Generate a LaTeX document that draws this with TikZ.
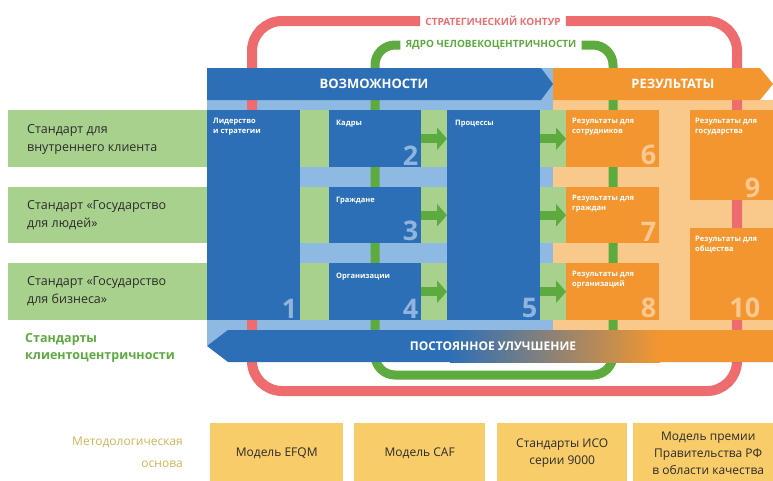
\documentclass[tikz,border=0pt]{standalone}
\usepackage{fontspec}
\setmainfont{Open Sans}
\usetikzlibrary{arrows.meta}
\definecolor{okblue}{HTML}{2C6FB7}
\definecolor{oklightblue}{HTML}{8DB9E2}
\definecolor{oknumblue}{HTML}{8FB4DE}
\definecolor{okgreen}{HTML}{5DAA3F}
\definecolor{oklightgreen}{HTML}{A9D18E}
\definecolor{okred}{HTML}{EE6B6E}
\definecolor{okorange}{HTML}{F3962F}
\definecolor{oklightorange}{HTML}{F9C98B}
\definecolor{oknumorange}{HTML}{FAC993}
\definecolor{okyellow}{HTML}{F8CD69}
\definecolor{okolive}{HTML}{C9B65A}
\definecolor{okink}{HTML}{2B2B2B}

\begin{document}
\begin{tikzpicture}[x=1pt, y=-1pt,
                    every node/.style={inner sep=0pt},
                    cell/.style={anchor=north west, minimum width=#1},
                    bluecell/.style={cell=#1, fill=okblue},
                    orangecell/.style={cell=#1, fill=okorange},
                    celltext/.style={anchor=north west, align=left, text=white,
                                     font=\fontsize{7.5}{10}\selectfont\bfseries},
                    bluenum/.style={anchor=south east, text=oknumblue,
                                    font=\fontsize{27}{27}\selectfont\bfseries},
                    orangenum/.style={bluenum, text=oknumorange},
                    headtext/.style={text=white, font=\fontsize{13}{13}\selectfont\bfseries},
                    looptext/.style={inner xsep=5pt, font=\fontsize{10}{10}\selectfont\bfseries},
                    stdtext/.style={anchor=west, align=left, text=okink,
                                    font=\fontsize{12.5}{18}\selectfont},
                    modelbox/.style={anchor=north west, fill=okyellow, minimum height=60pt,
                                     align=center, text=okink,
                                     font=\fontsize{12}{17}\selectfont},
                    redloop/.style={okred, line width=10pt, rounded corners=30pt},
                    greenloop/.style={okgreen, line width=9pt, rounded corners=20pt},
                    flow/.style={okgreen, line width=9pt,
                                 -{Triangle[length=10pt, width=22pt]}}]

\useasboundingbox (0,0) rectangle (773,480);

%% ==== фон блоков =====================================================
\fill[oklightblue]   (207,68)  rectangle (553,345);
\fill[oklightorange] (553,100) rectangle (773,333);

%% полосы стандартов идут под блоками до столбца результатов
\fill[oklightgreen] (8,110) rectangle (566,167);
\fill[oklightgreen] (8,187) rectangle (566,243);
\fill[oklightgreen] (8,263) rectangle (566,320);

%% ==== контуры ========================================================
\node[looptext, text=okred]   (strat) at (493,21) {СТРАТЕГИЧЕСКИЙ КОНТУР};
\node[looptext, text=okgreen] (core)  at (491,45) {ЯДРО ЧЕЛОВЕКОЦЕНТРИЧНОСТИ};

\draw[redloop]   (strat.west) -- (252,21) -- (252,391) -- (737,391) -- (737,21) -- (strat.east);
\draw[greenloop] (core.west)  -- (375,45) -- (375,375) -- (613,375) -- (613,45) -- (core.east);

%% ==== заголовки ======================================================
\fill[okorange] (553,68) -- (760,68) -- (773,84) -- (760,100) -- (553,100) -- cycle;
\fill[okblue]   (207,68) -- (541,68) -- (553,84) -- (541,100) -- (207,100) -- cycle;
\node[headtext] (opps)    at (374,84) {ВОЗМОЖНОСТИ};
\node[headtext] (results) at (673,84) {РЕЗУЛЬТАТЫ};

%% ==== возможности ====================================================
\node[bluecell=93pt, minimum height=210pt] (lead)     at (207,110) {};
\node[bluecell=92pt, minimum height=57pt]  (staff)    at (329,110) {};
\node[bluecell=92pt, minimum height=56pt]  (citizens) at (329,187) {};
\node[bluecell=92pt, minimum height=57pt]  (orgs)     at (329,263) {};
\node[bluecell=93pt, minimum height=210pt] (procs)    at (447,110) {};

\node[celltext] at ([xshift=6pt, yshift=-8pt]lead.north west)     {Лидерство\\и стратегии};
\node[celltext] at ([xshift=7pt, yshift=-10pt]staff.north west)   {Кадры};
\node[celltext] at ([xshift=7pt, yshift=-10pt]citizens.north west){Граждане};
\node[celltext] at ([xshift=7pt, yshift=-10pt]orgs.north west)    {Организации};
\node[celltext] at ([xshift=8pt, yshift=-10pt]procs.north west)   {Процессы};

\node[bluenum] at ([xshift=-3pt, yshift=2pt]lead.south east)     {1};
\node[bluenum] at ([xshift=-3pt, yshift=2pt]staff.south east)    {2};
\node[bluenum] at ([xshift=-3pt, yshift=2pt]citizens.south east) {3};
\node[bluenum] at ([xshift=-3pt, yshift=2pt]orgs.south east)     {4};
\node[bluenum] at ([xshift=-3pt, yshift=2pt]procs.south east)    {5};

%% ==== результаты =====================================================
\node[orangecell=93pt, minimum height=57pt] (resstaff) at (566,110) {};
\node[orangecell=93pt, minimum height=56pt] (rescit)   at (566,187) {};
\node[orangecell=93pt, minimum height=57pt] (resorg)   at (566,263) {};
\node[orangecell=90pt, minimum height=90pt] (resstate) at (690,110) {};
\node[orangecell=90pt, minimum height=92pt] (ressoc)   at (690,228) {};

\node[celltext] at ([xshift=6pt, yshift=-8pt]resstaff.north west) {Результаты для\\сотрудников};
\node[celltext] at ([xshift=6pt, yshift=-8pt]rescit.north west)   {Результаты для\\граждан};
\node[celltext] at ([xshift=6pt, yshift=-8pt]resorg.north west)   {Результаты для\\организаций};
\node[celltext] at ([xshift=5pt, yshift=-8pt]resstate.north west) {Результаты для\\государства};
\node[celltext] at ([xshift=5pt, yshift=-8pt]ressoc.north west)   {Результаты для\\общества};

\node[orangenum] at ([xshift=-3pt, yshift=2pt]resstaff.south east) {6};
\node[orangenum] at ([xshift=-3pt, yshift=2pt]rescit.south east)   {7};
\node[orangenum] at ([xshift=-3pt, yshift=2pt]resorg.south east)   {8};
%% в исходнике 9 и 10 срезаны краем, здесь они сдвинуты внутрь
\node[orangenum] at ([xshift=-20pt, yshift=2pt]resstate.south east) {9};
\node[orangenum] at ([xshift=-20pt, yshift=2pt]ressoc.south east)   {10};

%% ==== стрелки между столбцами =======================================
\draw[flow] (staff.east)    -- (staff.east -| procs.west);
\draw[flow] (citizens.east) -- (citizens.east -| procs.west);
\draw[flow] (orgs.east)     -- (orgs.east -| procs.west);
\draw[flow] (procs.east |- resstaff.west) -- (resstaff.west);
\draw[flow] (procs.east |- rescit.west)   -- (rescit.west);
\draw[flow] (procs.east |- resorg.west)   -- (resorg.west);

%% ==== постоянное улучшение ==========================================
\fill[okblue]   (228,330) -- (773,330) -- (773,362) -- (228,362) -- (207,346) -- cycle;
\shade[left color=okblue, right color=okorange] (450,330) rectangle (660,362);
\fill[okorange] (659,330) rectangle (773,362);
\node[headtext, font=\fontsize{12}{12}\selectfont\bfseries] (improve) at (493,346) {ПОСТОЯННОЕ УЛУЧШЕНИЕ};

%% ==== стандарты ======================================================
\node[stdtext] (std1) at (27,139) {Стандарт для\\внутреннего клиента};
\node[stdtext] (std2) at (27,215) {Стандарт «Государство\\для людей»};
\node[stdtext] (std3) at (27,291) {Стандарт «Государство\\для бизнеса»};
\node[stdtext, text=okgreen, font=\fontsize{12.5}{17}\selectfont\bfseries] (stdall) at (25,348)
  {Стандарты\\клиентоцентричности};

%% ==== методологическая основа =======================================
\node[anchor=east, align=right, text=okolive, font=\fontsize{12}{22}\selectfont] (method) at (183,452)
  {Методологическая\\основа};
\node[modelbox, minimum width=133pt] (efqm)  at (210,423) {Модель EFQM};
\node[modelbox, minimum width=131pt] (caf)   at (354,423) {Модель CAF};
\node[modelbox, minimum width=130pt] (iso)   at (497,423) {Стандарты ИСО\\серии 9000};
\node[modelbox, minimum width=150pt] (prize) at (633,423) {Модель премии\\Правительства РФ\\в области качества};

\end{tikzpicture}
\end{document}
